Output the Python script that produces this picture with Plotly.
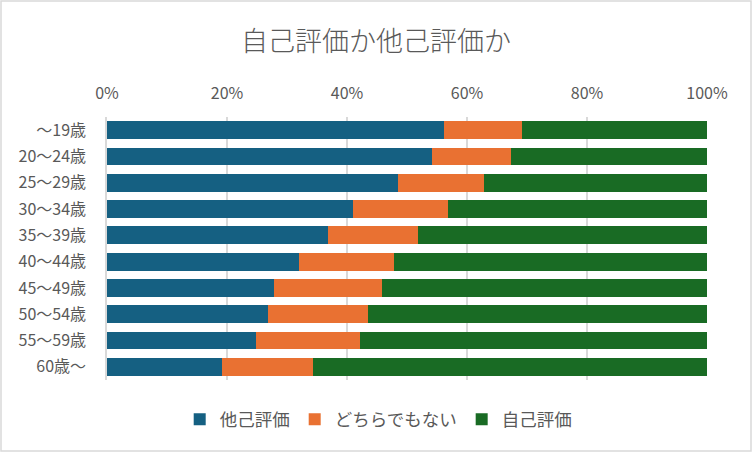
import plotly.graph_objects as go

# 年代別の回答割合（%）
age_groups = ["～19歳", "20～24歳", "25～29歳", "30～34歳", "35～39歳",
              "40～44歳", "45～49歳", "50～54歳", "55～59歳", "60歳～"]
other_eval = [56.2, 54.1, 48.5, 41.0, 36.8, 32.0, 27.8, 26.8, 24.9, 19.2]
neither = [12.9, 13.2, 14.3, 15.9, 15.1, 15.9, 18.1, 16.7, 17.3, 15.1]
self_eval = [30.9, 32.7, 37.2, 43.1, 48.1, 52.1, 54.1, 56.5, 57.8, 65.7]

font_jp = "Noto Sans CJK JP"
gray = "#595959"

series = [
    ("他己評価", other_eval, "#156082"),
    ("どちらでもない", neither, "#E97132"),
    ("自己評価", self_eval, "#196B24"),
]

fig = go.Figure()
for name, vals, color in series:
    fig.add_trace(go.Bar(
        y=age_groups,
        x=vals,
        name=name,
        orientation="h",
        marker_color=color,
        marker_line_width=0,
    ))

fig.update_layout(
    barmode="stack",
    bargap=0.32,
    width=752,
    height=452,
    paper_bgcolor="white",
    plot_bgcolor="white",
    margin=dict(l=107, r=45, t=117, b=72),
    font=dict(family=font_jp, color=gray, size=14),
    title=dict(text="自己評価か他己評価か", x=0.5, xref="container", xanchor="center",
               y=0.908, yanchor="middle", font=dict(size=27, color=gray, weight=300)),
    legend=dict(orientation="h", x=0.452, xanchor="center", y=-0.15, yanchor="middle",
                font=dict(size=17.5, color=gray), traceorder="normal",
                itemwidth=30),
    showlegend=True,
)

fig.update_xaxes(
    side="top",
    range=[0, 100],
    tickvals=[0, 20, 40, 60, 80, 100],
    ticktext=["0%", "20%", "40%", "60%", "80%", "100%"],
    showgrid=True,
    gridcolor="#D9D9D9",
    gridwidth=1.5,
    zeroline=False,
    showline=False,
    ticks="",
    ticklabelstandoff=14,
    tickfont=dict(size=16, color=gray),
)
fig.update_yaxes(
    autorange="reversed",
    showline=True,
    linecolor="#D9D9D9",
    linewidth=1.5,
    ticks="",
    ticklabelstandoff=16,
    tickfont=dict(size=16, color=gray),
)

# グラフ全体の枠線
fig.add_shape(type="rect", xref="paper", yref="paper",
              x0=-106 / 600, x1=(752 - 107 - 1) / 600,
              y0=-71 / 263, y1=(452 - 72 - 1) / 263,
              line=dict(color="#D9D9D9", width=1.5), fillcolor="rgba(0,0,0,0)")

fig.write_html("out.html", config={"displayModeBar": False},
               post_script="document.body.style.margin='0';document.body.style.overflow='hidden';")
